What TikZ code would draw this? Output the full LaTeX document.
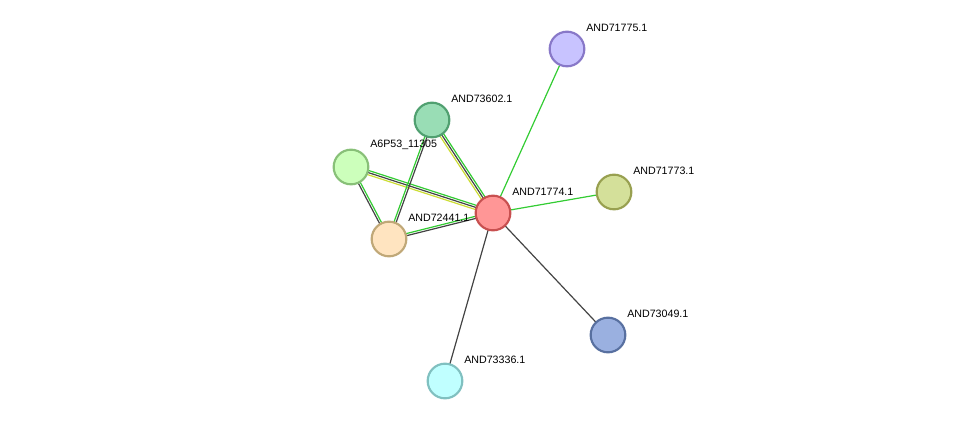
\documentclass[tikz,border=0pt]{standalone}
\usepackage{fontspec}
\setmainfont{Liberation Sans}
\usetikzlibrary{calc}
\definecolor{edgegreen}{HTML}{33CC33}
\definecolor{edgedark}{HTML}{444444}
\definecolor{edgeyellow}{HTML}{CCDD33}
\tikzset{
  prot/.style={circle,draw,line width=1.6pt,minimum size=26pt,inner sep=0pt},
  lbl/.style={anchor=south west,font=\fontsize{8}{9}\selectfont,inner sep=0pt}
}
% edge line with perpendicular shift
\newcommand{\edgeline}[4]{\draw[#4,line width=0.9pt] ($(#1)!#3!90:(#2)$) -- ($(#2)!#3!-90:(#1)$);}
\begin{document}
\begin{tikzpicture}[x=0.75pt,y=-0.75pt]
\useasboundingbox (0,0) rectangle (976,427);
\coordinate (c774) at (493,213);
\coordinate (c775) at (567,49);
\coordinate (c773) at (614,192);
\coordinate (c049) at (608,335);
\coordinate (c336) at (445,381);
\coordinate (c441) at (389,239);
\coordinate (c602) at (432,120);
\coordinate (c11305) at (351,167);
% edges
\edgeline{c774}{c775}{0pt}{edgegreen}
\edgeline{c774}{c773}{0pt}{edgegreen}
\edgeline{c774}{c049}{0pt}{edgedark}
\edgeline{c774}{c336}{0pt}{edgedark}
\edgeline{c602}{c774}{-1.6pt}{edgeyellow}
\edgeline{c602}{c774}{0pt}{edgedark}
\edgeline{c602}{c774}{1.6pt}{edgegreen}
\edgeline{c11305}{c774}{-1.6pt}{edgeyellow}
\edgeline{c11305}{c774}{0pt}{edgedark}
\edgeline{c11305}{c774}{1.6pt}{edgegreen}
\edgeline{c11305}{c441}{-0.8pt}{edgedark}
\edgeline{c11305}{c441}{0.8pt}{edgegreen}
\edgeline{c602}{c441}{0.8pt}{edgedark}
\edgeline{c602}{c441}{-0.8pt}{edgegreen}
\edgeline{c441}{c774}{-0.8pt}{edgedark}
\edgeline{c441}{c774}{0.8pt}{edgegreen}
% proteins
\node[prot,fill={rgb,255:red,255;green,150;blue,150},draw={rgb,255:red,200;green,80;blue,80}] (n774) at (c774) {};
\node[prot,fill={rgb,255:red,200;green,195;blue,255},draw={rgb,255:red,136;green,120;blue,200}] (n775) at (c775) {};
\node[prot,fill={rgb,255:red,212;green,224;blue,154},draw={rgb,255:red,152;green,160;blue,80}] (n773) at (c773) {};
\node[prot,fill={rgb,255:red,154;green,176;blue,224},draw={rgb,255:red,88;green,112;blue,160}] (n049) at (c049) {};
\node[prot,fill={rgb,255:red,192;green,255;blue,255},draw={rgb,255:red,128;green,192;blue,192}] (n336) at (c336) {};
\node[prot,fill={rgb,255:red,255;green,228;blue,192},draw={rgb,255:red,192;green,168;blue,120}] (n441) at (c441) {};
\node[prot,fill={rgb,255:red,153;green,221;blue,181},draw={rgb,255:red,80;green,160;blue,112}] (n602) at (c602) {};
\node[prot,fill={rgb,255:red,204;green,255;blue,187},draw={rgb,255:red,136;green,192;blue,120}] (n11305) at (c11305) {};
% labels
\node[lbl] (l774) at ($(c774)+(19,-17)$) {AND71774.1};
\node[lbl] (l775) at ($(c775)+(19,-17)$) {AND71775.1};
\node[lbl] (l773) at ($(c773)+(19,-17)$) {AND71773.1};
\node[lbl] (l049) at ($(c049)+(19,-17)$) {AND73049.1};
\node[lbl] (l336) at ($(c336)+(19,-17)$) {AND73336.1};
\node[lbl] (l441) at ($(c441)+(19,-17)$) {AND72441.1};
\node[lbl] (l602) at ($(c602)+(19,-17)$) {AND73602.1};
\node[lbl] (l11305) at ($(c11305)+(19,-17)$) {A6P53\_11305};
\end{tikzpicture}
\end{document}
